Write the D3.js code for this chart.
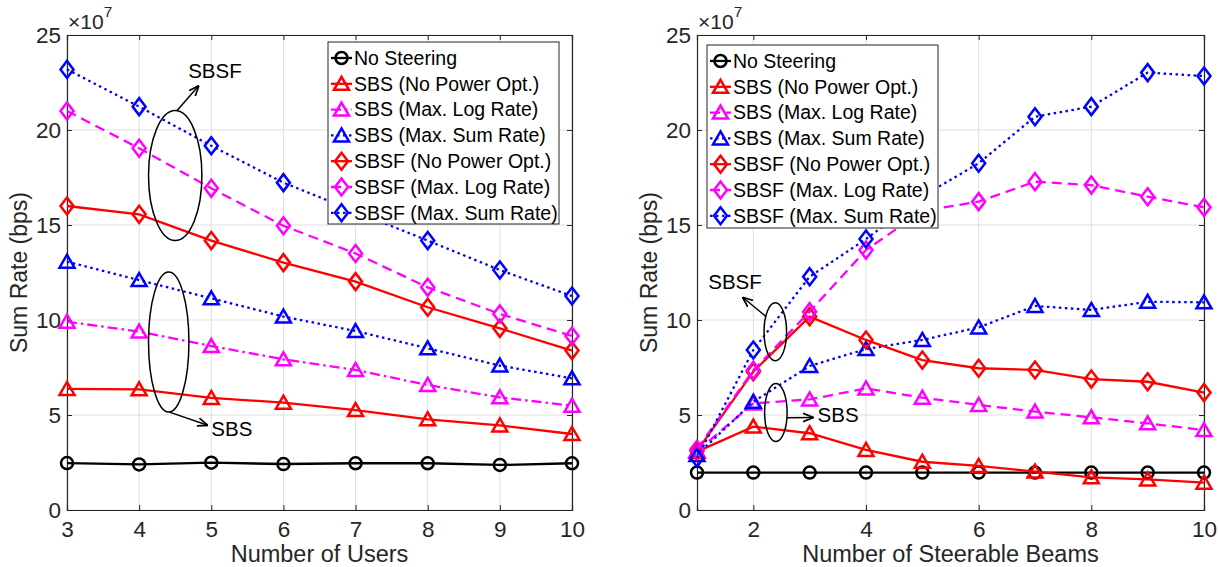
<!DOCTYPE html>
<html>
<head>
<meta charset="utf-8">
<script src="https://cdn.jsdelivr.net/npm/d3@7"></script>
<style>
  html, body { margin: 0; padding: 0; background: #fff; }
  svg { display: block; font-family: "Liberation Sans", Arial, Helvetica, sans-serif; }
</style>
</head>
<body>
<svg id="fig" width="1220" height="567"></svg>
<script>
// ---- data (sum rate in units of 1e7 bps) ----
const usersX = [3, 4, 5, 6, 7, 8, 9, 10];
const beamsX = [1, 2, 3, 4, 5, 6, 7, 8, 9, 10];

const noSteerUsers   = [2.47, 2.40, 2.49, 2.42, 2.46, 2.46, 2.37, 2.46];
const sbsNoPowUsers  = [6.37, 6.35, 5.90, 5.65, 5.26, 4.77, 4.45, 4.00];
const sbsLogUsers    = [9.91, 9.39, 8.63, 7.93, 7.37, 6.58, 5.93, 5.49];
const sbsSumUsers    = [13.07, 12.10, 11.14, 10.18, 9.42, 8.51, 7.60, 6.93];
const sbsfNoPowUsers = [16.00, 15.56, 14.18, 13.02, 12.02, 10.67, 9.56, 8.39];
const sbsfLogUsers   = [21.00, 19.04, 16.93, 14.96, 13.50, 11.72, 10.32, 9.16];
const sbsfSumUsers   = [23.19, 21.23, 19.17, 17.23, 15.70, 14.18, 12.63, 11.26];

const noSteerBeams   = [1.97, 1.97, 1.97, 1.97, 1.97, 1.97, 1.97, 1.97, 1.97, 1.97];
const sbsNoPowBeams  = [3.07, 4.39, 4.04, 3.16, 2.54, 2.32, 2.02, 1.72, 1.61, 1.44];
const sbsLogBeams    = [3.10, 5.61, 5.82, 6.40, 5.91, 5.53, 5.18, 4.88, 4.56, 4.21];
const sbsSumBeams    = [2.90, 5.70, 7.58, 8.47, 8.95, 9.61, 10.74, 10.53, 10.96, 10.93];
const sbsfNoPowBeams = [3.10, 7.28, 10.18, 8.95, 7.89, 7.46, 7.37, 6.89, 6.75, 6.18];
const sbsfLogBeams   = [3.20, 7.35, 10.44, 13.68, 15.74, 16.23, 17.28, 17.10, 16.49, 15.93];
const sbsfSumBeams   = [2.74, 8.42, 12.28, 14.26, 16.50, 18.25, 20.70, 21.23, 23.02, 22.84];

const seriesNames = [
  "No Steering",
  "SBS (No Power Opt.)",
  "SBS (Max. Log Rate)",
  "SBS (Max. Sum Rate)",
  "SBSF (No Power Opt.)",
  "SBSF (Max. Log Rate)",
  "SBSF (Max. Sum Rate)"
];

const yTicks = [0, 5, 10, 15, 20, 25];
const usersTicks = [3, 4, 5, 6, 7, 8, 9, 10];
const beamsTicks = [2, 4, 6, 8, 10];

// ---- styles ----
const INK = "#262626";
const styles = [
  { color: "#000000", marker: "circle",   dash: null },
  { color: "#ff0000", marker: "triangle", dash: null },
  { color: "#ff00ff", marker: "triangle", dash: "dashdot" },
  { color: "#0000ff", marker: "triangle", dash: "dot" },
  { color: "#ff0000", marker: "diamond",  dash: null },
  { color: "#ff00ff", marker: "diamond",  dash: "dash" },
  { color: "#0000ff", marker: "diamond",  dash: "dot" }
];
const dashArrays = { dash: "10,6", dot: "2.5,3.5", dashdot: "10,4,2.5,4" };

function markerPath(type) {
  if (type === "triangle") return "M0,-7 L7.5,6 L-7.5,6 Z";
  if (type === "diamond") return "M0,-8.5 L6.5,0 L0,8.5 L-6.5,0 Z";
  return d3.symbol(d3.symbolCircle, Math.PI * 36)();
}

const svg = d3.select("#fig");

function drawPanel(cfg) {
  const { left, right, top, bottom } = cfg.box;
  const x = d3.scaleLinear().domain(cfg.xDomain).range([left, right]);
  const y = d3.scaleLinear().domain([0, 25]).range([bottom, top]);
  const g = svg.append("g");

  // grid
  g.append("g").selectAll("line.gx").data(cfg.xTicks).join("line")
    .attr("x1", d => x(d)).attr("x2", d => x(d))
    .attr("y1", top).attr("y2", bottom)
    .attr("stroke", "#dfdfdf").attr("stroke-width", 1);
  g.append("g").selectAll("line.gy").data(yTicks).join("line")
    .attr("y1", d => y(d)).attr("y2", d => y(d))
    .attr("x1", left).attr("x2", right)
    .attr("stroke", "#dfdfdf").attr("stroke-width", 1);

  // axes (ticks inward, on all four sides)
  const tickFont = (sel) => sel.selectAll("text")
    .attr("fill", INK).style("font-size", "22.5px")
    .style("font-family", '"Liberation Sans", Arial, sans-serif');
  const axB = g.append("g").attr("transform", `translate(0,${bottom})`)
    .call(d3.axisBottom(x).tickValues(cfg.xTicks).tickSize(-5).tickPadding(11).tickFormat(d3.format("d")));
  const axL = g.append("g").attr("transform", `translate(${left},0)`)
    .call(d3.axisLeft(y).tickValues(yTicks).tickSize(-5).tickPadding(6).tickFormat(d3.format("d")));
  const axT = g.append("g").attr("transform", `translate(0,${top})`)
    .call(d3.axisTop(x).tickValues(cfg.xTicks).tickSize(-5).tickFormat(""));
  const axR = g.append("g").attr("transform", `translate(${right},0)`)
    .call(d3.axisRight(y).tickValues(yTicks).tickSize(-5).tickFormat(""));
  [axB, axL, axT, axR].forEach(a => {
    a.select(".domain").attr("stroke", INK).attr("stroke-width", 1.2);
    a.selectAll(".tick line").attr("stroke", INK).attr("stroke-width", 1);
    tickFont(a);
  });
  axB.selectAll("text").attr("dy", "0.71em");

  // exponent label
  const ex = g.append("text").attr("x", left + 1).attr("y", top - 6)
    .attr("fill", INK).style("font-size", "21px");
  ex.append("tspan").text("\u00d710");
  ex.append("tspan").attr("dy", -12).style("font-size", "15.5px").text("7");

  // axis labels
  g.append("text").attr("x", (left + right) / 2).attr("y", bottom + 52)
    .attr("text-anchor", "middle").attr("fill", INK).style("font-size", "23.5px")
    .text(cfg.xLabel);
  g.append("text")
    .attr("transform", `translate(${left - 40},${(top + bottom) / 2}) rotate(-90)`)
    .attr("text-anchor", "middle").attr("fill", INK).style("font-size", "23px")
    .text("Sum Rate (bps)");

  // series
  const line = d3.line().x(d => x(d[0])).y(d => y(d[1]));
  cfg.series.forEach((vals, i) => {
    const st = styles[i];
    const dashKey = (cfg.dashOverride && cfg.dashOverride[i] !== undefined) ? cfg.dashOverride[i] : st.dash;
    const pts = cfg.xs.map((xv, k) => [xv, vals[k]]);
    g.append("path").datum(pts).attr("d", line)
      .attr("fill", "none").attr("stroke", st.color).attr("stroke-width", 2.3)
      .attr("stroke-dasharray", dashKey ? dashArrays[dashKey] : null);
    g.append("g").selectAll("path").data(pts).join("path")
      .attr("d", markerPath(st.marker))
      .attr("transform", d => `translate(${x(d[0])},${y(d[1])})`)
      .attr("fill", "none").attr("stroke", st.color).attr("stroke-width", 2.5);
  });

  // annotations: ellipses with arrows
  const defsId = cfg.id + "-arrow";
  svg.append("defs").append("marker")
    .attr("id", defsId).attr("viewBox", "0 0 10 10").attr("refX", 9).attr("refY", 5)
    .attr("markerWidth", 7).attr("markerHeight", 7).attr("orient", "auto-start-reverse")
    .append("path").attr("d", "M0,1 L10,5 L0,9").attr("fill", "none")
    .attr("stroke", "#000").attr("stroke-width", 1.6);
  cfg.notes.forEach(n => {
    const cx = x(n.cx), cy = y(n.cy);
    const rx = Math.abs(x(n.cx + n.rx) - cx), ry = Math.abs(y(n.cy + n.ry) - cy);
    g.append("ellipse").attr("cx", cx).attr("cy", cy).attr("rx", rx).attr("ry", ry)
      .attr("fill", "none").attr("stroke", "#000").attr("stroke-width", 1.5);
    g.append("line")
      .attr("x1", x(n.from[0])).attr("y1", y(n.from[1]))
      .attr("x2", x(n.to[0])).attr("y2", y(n.to[1]))
      .attr("stroke", "#000").attr("stroke-width", 1.5)
      .attr("marker-end", `url(#${defsId})`);
    g.append("text").attr("x", x(n.text[0])).attr("y", y(n.text[1]))
      .attr("fill", "#000").style("font-size", "20.5px").text(n.label);
  });

  // legend
  const L = cfg.legend;
  const lg = g.append("g");
  lg.append("rect").attr("x", L.x).attr("y", L.y).attr("width", L.w).attr("height", L.h)
    .attr("fill", "#fff").attr("stroke", INK).attr("stroke-width", 1);
  seriesNames.forEach((name, i) => {
    const st = styles[i];
    const dashKey = (cfg.dashOverride && cfg.dashOverride[i] !== undefined) ? cfg.dashOverride[i] : st.dash;
    const cyL = L.y + 16 + i * 25.8;
    lg.append("line").attr("x1", L.x + 3).attr("x2", L.x + 24).attr("y1", cyL).attr("y2", cyL)
      .attr("stroke", st.color).attr("stroke-width", 2.3)
      .attr("stroke-dasharray", dashKey ? dashArrays[dashKey] : null);
    lg.append("path").attr("d", markerPath(st.marker))
      .attr("transform", `translate(${L.x + 13.5},${cyL})`)
      .attr("fill", "none").attr("stroke", st.color).attr("stroke-width", 2.5);
    lg.append("text").attr("x", L.x + 26).attr("y", cyL).attr("dy", "0.35em")
      .attr("fill", "#000").style("font-size", "19.5px").text(name);
  });
}

drawPanel({
  id: "users",
  box: { left: 67, right: 572, top: 35, bottom: 510 },
  xDomain: [3, 10], xTicks: usersTicks, xs: usersX,
  xLabel: "Number of Users",
  series: [noSteerUsers, sbsNoPowUsers, sbsLogUsers, sbsSumUsers, sbsfNoPowUsers, sbsfLogUsers, sbsfSumUsers],
  legend: { x: 328, y: 42, w: 231, h: 182 },
  notes: [
    { label: "SBSF", cx: 4.50, cy: 17.6, rx: 0.37, ry: 3.42,
      from: [4.52, 21.0], to: [4.82, 22.3], text: [4.68, 22.74] },
    { label: "SBS", cx: 4.41, cy: 8.84, rx: 0.28, ry: 3.68,
      from: [4.42, 5.15], to: [4.94, 4.47], text: [5.0, 3.9] }
  ]
});

drawPanel({
  id: "beams",
  box: { left: 697, right: 1204, top: 35, bottom: 510 },
  xDomain: [1, 10], xTicks: beamsTicks, xs: beamsX,
  xLabel: "Number of Steerable Beams",
  dashOverride: { 2: "dash" },
  series: [noSteerBeams, sbsNoPowBeams, sbsLogBeams, sbsSumBeams, sbsfNoPowBeams, sbsfLogBeams, sbsfSumBeams],
  legend: { x: 707, y: 45, w: 231, h: 183 },
  notes: [
    { label: "SBSF", cx: 2.39, cy: 9.38, rx: 0.2, ry: 1.53,
      from: [2.23, 10.17], to: [1.82, 11.17], text: [1.2, 11.63] },
    { label: "SBS", cx: 2.40, cy: 5.13, rx: 0.2, ry: 1.53,
      from: [2.59, 4.86], to: [3.05, 4.87], text: [3.14, 4.63] }
  ]
});
</script>
</body>
</html>
